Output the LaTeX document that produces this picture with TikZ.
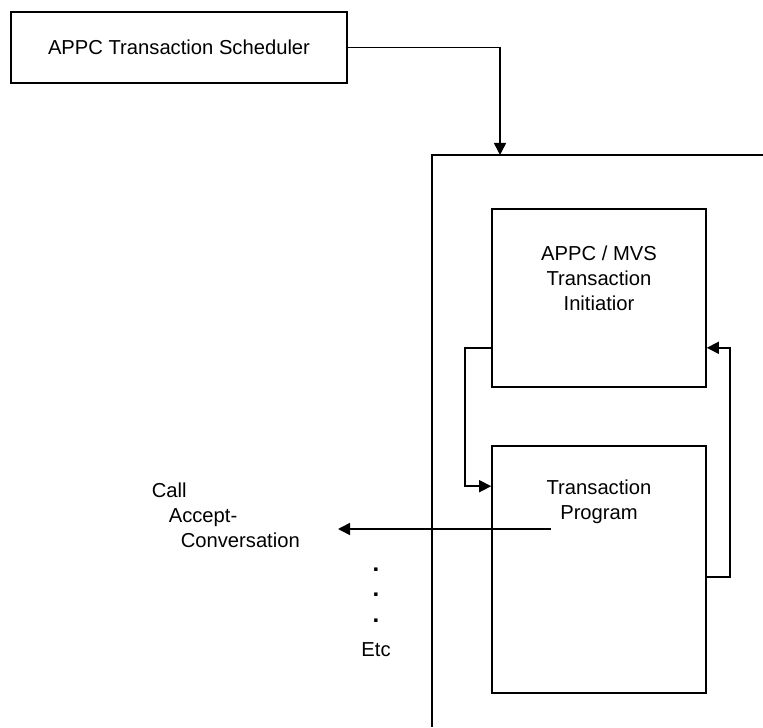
\documentclass[tikz,border=0pt]{standalone}
\usepackage{fontspec}
\setmainfont{Liberation Sans}
\usetikzlibrary{arrows.meta}

\begin{document}
\begin{tikzpicture}[x=0.5pt, y=0.5pt, line width=0.8pt,
  every node/.style={font=\fontsize{10.1}{12.5}\selectfont, inner sep=0pt},
  box/.style={draw, rectangle, minimum width=107pt},
  flow/.style={-{Triangle[length=6pt,width=6pt]}}]

\useasboundingbox (0,0) rectangle (763,727);

\node[box,minimum width=168pt,minimum height=35.5pt] (sched) at (179,679.5) {APPC Transaction Scheduler};

\coordinate (regiontop) at (500,572);
\draw (763,572) -- (432,572) -- (432,0);

\node[box,minimum height=89pt] (initiator) at (599,429) {};
\node[align=center] (initlabel) at (599,449) {APPC / MVS\\Transaction\\Initiatior};

\node[box,minimum height=123.5pt] (program) at (599,157.5) {};
\node[align=center] (proglabel) at (599,225) {Transaction\\Program};

\node[align=left,anchor=west] (call) at (151,212) {Call\\\hspace{8.5pt}Accept-\\\hspace{14.5pt}Conversation};
\coordinate (callend) at (338,198);

\foreach \y [count=\i] in {157,132,106}
  \node[font=\fontsize{12}{12}\bfseries] (dot\i) at (376,\y) {.};
\node (etc) at (376,77) {Etc};

\draw[flow] (sched.east) -| (regiontop);
\draw[flow] ([yshift=20pt]initiator.south west) -- ++(-13pt,0) |- ([yshift=-20.5pt]program.north west);
\draw[flow] ([yshift=-3.75pt]program.east) -- ++(11.5pt,0) |- ([yshift=20pt]initiator.south east);
\draw[flow] (551,198) -- (callend);

\end{tikzpicture}
\end{document}
